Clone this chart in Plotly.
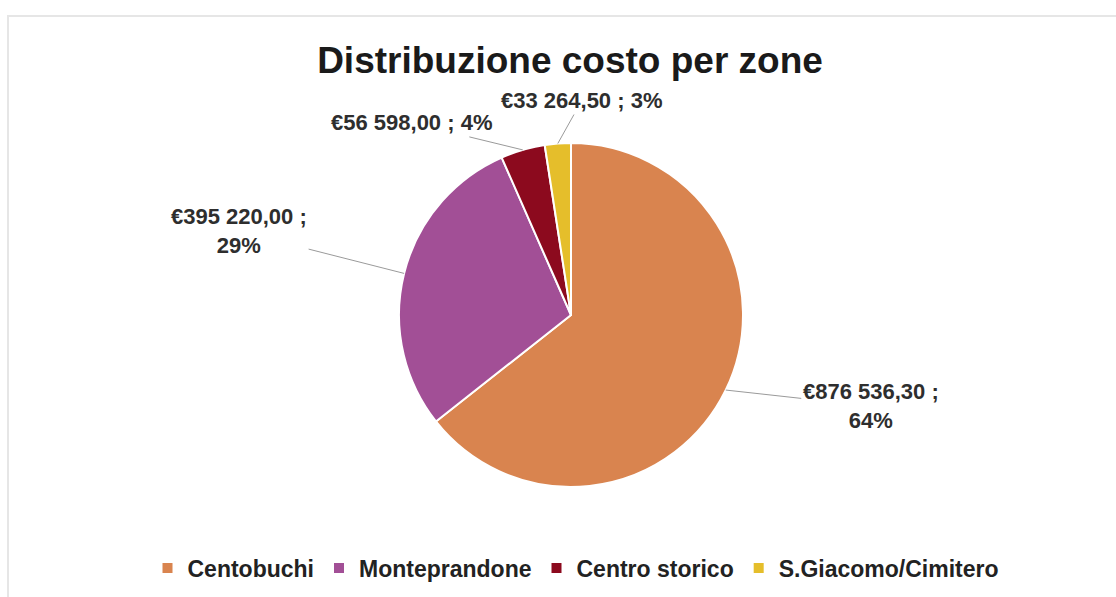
import math
import plotly.graph_objects as go

# Costs per zone (EUR)
zones = ["Centobuchi", "Monteprandone", "Centro storico", "S.Giacomo/Cimitero"]
costs = [876536.30, 395220.00, 56598.00, 33264.50]
pct_labels = ["64%", "29%", "4%", "3%"]
colors = ["#D9844F", "#A24F96", "#8C0A1E", "#E5BE2B"]

W, H = 1116, 597
CX, CY, R = 571, 315, 172          # pie centre / radius in pixels

# label text offsets (pixels, from slice edge)
label_dx = [145, -165, -111, 24]
label_dy = [16, -42, -27, -43]
label_breaks = [True, True, False, False]

FONT = "Liberation Sans, Arial, sans-serif"


def eur(v):
    s = f"{v:,.2f}"
    whole, dec = s.split(".")
    return "€" + whole.replace(",", " ") + "," + dec


fig = go.Figure(go.Pie(
    labels=zones,
    values=costs,
    sort=False,
    direction="clockwise",
    rotation=0,
    marker=dict(colors=colors, line=dict(color="white", width=2)),
    textinfo="none",
    hoverinfo="label+value+percent",
    domain=dict(x=[(CX - R) / W, (CX + R) / W],
                y=[(H - CY - R) / H, (H - CY + R) / H]),
))

total = sum(costs)
annotations = []
cum = 0.0
for i, v in enumerate(costs):
    frac = v / total
    mid = (cum + frac / 2) * 2 * math.pi
    cum += frac
    px = CX + R * math.sin(mid)
    py = CY - R * math.cos(mid)
    sep = " ;<br>" if label_breaks[i] else " ; "
    annotations.append(dict(
        x=px / W, y=1 - py / H, xref="paper", yref="paper",
        text=f"<b>{eur(v)}{sep}{pct_labels[i]}</b>",
        showarrow=True, arrowhead=0, arrowwidth=1, arrowcolor="#9a9a9a",
        ax=label_dx[i], ay=label_dy[i], axref="pixel", ayref="pixel",
        font=dict(family=FONT, size=22, color="#2e2e2e"),
        align="center",
    ))

fig.update_layout(
    width=W, height=H,
    margin=dict(l=0, r=0, t=0, b=0),
    paper_bgcolor="white",
    plot_bgcolor="white",
    title=dict(
        text="<b>Distribuzione costo per zone</b>",
        x=570 / W, xanchor="center", y=1 - 60 / H, yanchor="middle",
        font=dict(family=FONT, size=37, color="#1a1a1a"),
    ),
    legend=dict(
        orientation="h", x=576 / W, xanchor="center", y=1 - 568 / H, yanchor="middle",
        font=dict(family=FONT, size=23, color="#222222", weight="bold"),
        itemwidth=30,
    ),
    annotations=annotations,
    shapes=[dict(type="rect", xref="paper", yref="paper",
                 x0=8 / W, x1=1.01, y0=-0.01, y1=1 - 16 / H,
                 line=dict(color="#e6e6e6", width=2), fillcolor="rgba(0,0,0,0)")],
)

fig.write_html("out.html")
